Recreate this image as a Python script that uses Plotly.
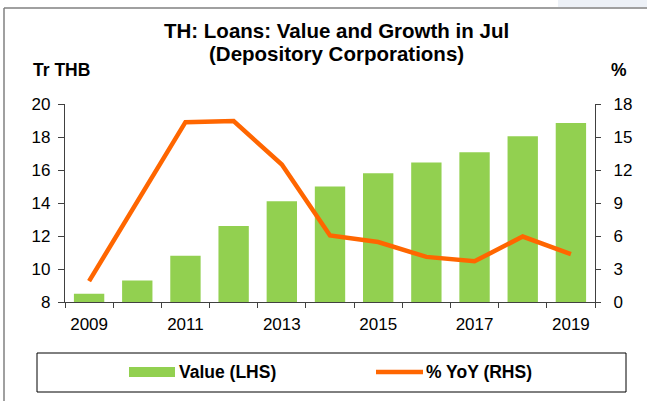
import plotly.graph_objects as go

years = [2009, 2010, 2011, 2012, 2013, 2014, 2015, 2016, 2017, 2018, 2019]
value_trthb = [8.5, 9.3, 10.8, 12.6, 14.1, 15.0, 15.8, 16.45, 17.07, 18.05, 18.85]
yoy_pct = [1.9, 9.1, 16.35, 16.45, 12.5, 6.05, 5.45, 4.1, 3.7, 5.95, 4.35]
x_tick_labels = ["2009", "2011", "2013", "2015", "2017", "2019"]
x_tick_vals = [2009, 2011, 2013, 2015, 2017, 2019]

W, H = 647, 401
FONT = "Liberation Sans, Arial, sans-serif"
GREEN = "#92D050"
ORANGE = "#FF6600"
AXIS = "#404040"
TICK_FS = 17

fig = go.Figure()
fig.add_trace(go.Bar(x=years, y=value_trthb, name="Value (LHS)",
                     marker=dict(color=GREEN, line=dict(width=0)),
                     width=0.63, yaxis="y"))
fig.add_trace(go.Scatter(x=years, y=yoy_pct, name="% YoY (RHS)", mode="lines",
                         line=dict(color=ORANGE, width=4.5), yaxis="y2"))

PL, PR, PT, PB = 65, 595, 104, 302
l, r, t, b = PL, W - PR, PT, H - PB

def px_x(px):
    return (px - PL) / (PR - PL)

def px_y(py):
    return (PB - py) / (PB - PT)

fig.update_layout(
    width=W, height=H,
    margin=dict(l=l, r=r, t=t, b=b, autoexpand=False),
    paper_bgcolor="white", plot_bgcolor="white",
    showlegend=False,
    font=dict(family=FONT, size=14, color="black"),
    xaxis=dict(range=[2008.5, 2019.5], tickvals=x_tick_vals, ticktext=x_tick_labels,
               ticks="", showgrid=False, zeroline=False, automargin=False,
               showline=True, linecolor=AXIS, linewidth=1.2,
               tickfont=dict(size=TICK_FS), ticklabelstandoff=6,
               minor=dict(tickvals=[2008.5 + i for i in range(12)], ticks="outside",
                          ticklen=5, tickcolor=AXIS, tickwidth=1.2, showgrid=False)),
    yaxis=dict(range=[8, 20], dtick=2, ticks="outside", ticklen=6, tickcolor=AXIS,
               tickwidth=1.2, showgrid=False, zeroline=False, showline=True,
               automargin=False, ticklabelstandoff=4,
               linecolor=AXIS, linewidth=1.2, tickfont=dict(size=TICK_FS)),
    yaxis2=dict(range=[0, 18], dtick=3, ticks="outside", ticklen=5, tickcolor=AXIS,
                tickwidth=1.2, showgrid=False, zeroline=False, showline=True,
                automargin=False, ticklabelstandoff=9,
                linecolor=AXIS, linewidth=1.2, overlaying="y", side="right",
                tickfont=dict(size=TICK_FS)),
)

annotations = [
    dict(text="<b>TH: Loans: Value and Growth in Jul</b>", x=px_x(336), y=px_y(31),
         font=dict(size=20.5)),
    dict(text="<b>(Depository Corporations)</b>", x=px_x(336), y=px_y(54),
         font=dict(size=20.5)),
    dict(text="<b>Tr THB</b>", x=px_x(31), y=px_y(70), xanchor="left",
         font=dict(size=17.5)),
    dict(text="<b>%</b>", x=px_x(618.5), y=px_y(70), font=dict(size=17.5)),
    dict(text="<b>Value (LHS)</b>", x=px_x(177), y=px_y(372), xanchor="left",
         font=dict(size=17.5)),
    dict(text="<b>% YoY (RHS)</b>", x=px_x(424), y=px_y(372), xanchor="left",
         font=dict(size=17.5)),
]
for a in annotations:
    a.setdefault("xanchor", "center")
    a.update(xref="paper", yref="paper", showarrow=False, yanchor="middle")
    fig.add_annotation(**a)

def pshape(x0, y0, x1, y1, **kw):
    fig.add_shape(xref="paper", yref="paper",
                  x0=px_x(x0), x1=px_x(x1), y0=px_y(y0), y1=px_y(y1), **kw)

# light strip above frame at top-right
pshape(558, 0, 647, 7, type="rect", fillcolor="#EDF1F7", line=dict(width=0), layer="below")
# outer frame (left + top visible)
pshape(4, 8, 4, 401, type="line", line=dict(color="#808080", width=1.5))
pshape(4, 8, 647, 8, type="line", line=dict(color="#808080", width=1.5))
# legend box
pshape(37, 353, 626, 392, type="rect", line=dict(color="black", width=1))
pshape(129, 367, 175, 377, type="rect", fillcolor=GREEN, line=dict(width=0))
pshape(376, 372, 423, 372, type="line", line=dict(color=ORANGE, width=4.5))

fig.write_html("out.html", config={"displayModeBar": False},
               post_script="document.body.style.margin='0';document.body.style.overflow='hidden';")
